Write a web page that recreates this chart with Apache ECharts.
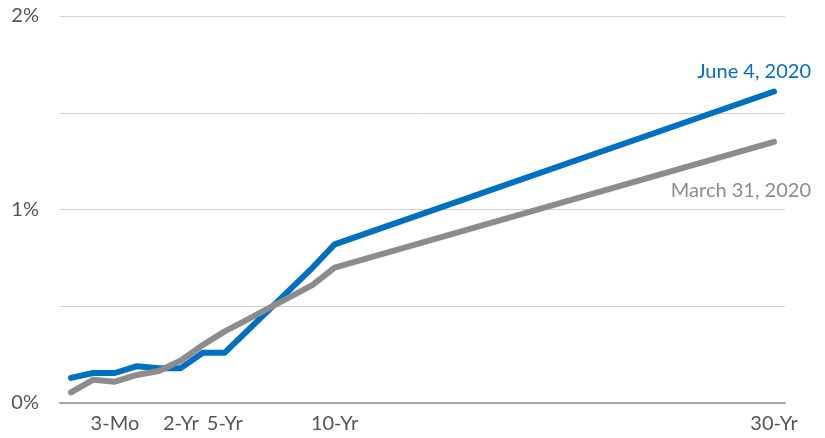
<!DOCTYPE html>
<html>
<head>
<meta charset="utf-8">
<script src="https://cdn.jsdelivr.net/npm/echarts@6/dist/echarts.min.js"></script>
<style>
  html, body { margin: 0; padding: 0; background: #fff; }
  #chart { width: 825px; height: 438px; }
</style>
</head>
<body>
<div id="chart"></div>
<script>
// maturities, one slot per step on the axis
const tenors = ['1-Mo', '2-Mo', '3-Mo', '6-Mo', '1-Yr', '2-Yr', '3-Yr', '5-Yr', '6-Yr', '7-Yr', '8-Yr', '9-Yr', '10-Yr',
  '11-Yr', '12-Yr', '13-Yr', '14-Yr', '15-Yr', '16-Yr', '17-Yr', '18-Yr', '19-Yr', '20-Yr',
  '21-Yr', '22-Yr', '23-Yr', '24-Yr', '25-Yr', '26-Yr', '27-Yr', '28-Yr', '29-Yr', '30-Yr']
const shownTenors = ['3-Mo', '2-Yr', '5-Yr', '10-Yr', '30-Yr']

// yields in %, gaps between 10-Yr and 30-Yr are joined
const june4 = [0.13, 0.155, 0.155, 0.19, 0.18, 0.18, 0.26, 0.26, 0.37, 0.48, 0.59, 0.70, 0.82,
  null, null, null, null, null, null, null, null, null, null,
  null, null, null, null, null, null, null, null, null, 1.61]
const march31 = [0.055, 0.12, 0.11, 0.145, 0.165, 0.22, 0.30, 0.37, 0.43, 0.49, 0.55, 0.61, 0.70,
  null, null, null, null, null, null, null, null, null, null,
  null, null, null, null, null, null, null, null, null, 1.35]

const font = 'Lato'
const chart = echarts.init(document.getElementById('chart'))

chart.setOption({
  animation: false,
  grid: { left: 60, right: 40, top: 16, bottom: 35 },
  xAxis: {
    type: 'category',
    data: tenors,
    boundaryGap: true,
    axisLine: { lineStyle: { color: '#a6a6a6', width: 2 } },
    axisTick: { show: false },
    axisLabel: {
      interval: (i, v) => shownTenors.includes(v),
      color: '#555555', fontFamily: font, fontSize: 20, margin: 11
    }
  },
  yAxis: {
    type: 'value',
    min: 0, max: 2, interval: 0.5,
    axisLine: { show: false },
    axisTick: { show: false },
    axisLabel: {
      formatter: v => (Number.isInteger(v) ? v + '%' : ''),
      color: '#555555', fontFamily: font, fontSize: 20, margin: 21
    },
    splitLine: { lineStyle: { color: '#d0d0d0', width: 1 } }
  },
  series: [
    {
      name: 'June 4, 2020',
      type: 'line',
      data: june4,
      connectNulls: true,
      showSymbol: false,
      lineStyle: { color: '#0070c0', width: 6, cap: 'round', join: 'round' },
      endLabel: {
        show: true, formatter: '{a}', color: '#0070c0', fontFamily: font, fontSize: 20,
        align: 'right', verticalAlign: 'middle', distance: 0, offset: [37, -20]
      }
    },
    {
      name: 'March 31, 2020',
      type: 'line',
      data: march31,
      connectNulls: true,
      showSymbol: false,
      lineStyle: { color: '#8c8c8e', width: 6, cap: 'round', join: 'round' },
      endLabel: {
        show: true, formatter: '{a}', color: '#8c8c8e', fontFamily: font, fontSize: 20,
        align: 'right', verticalAlign: 'middle', distance: 0, offset: [37, 49]
      }
    }
  ]
})
</script>
</body>
</html>
